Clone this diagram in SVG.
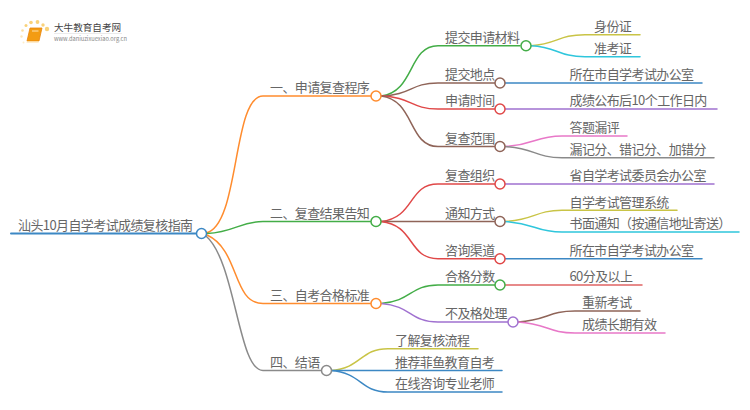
<svg xmlns="http://www.w3.org/2000/svg" width="750" height="410" viewBox="0 0 750 410">
<style>
text{font-family:"Noto Sans CJK SC","Noto Sans",sans-serif;font-size:13px;letter-spacing:-.6px;fill:#666;font-weight:400}
#links path{fill:none;stroke-width:1.5;stroke-linecap:round}
.n{fill:#fff;stroke-width:1.5}
.o{stroke:#ff8c2e}.g{stroke:#43ad47}.r{stroke:#e04848}.b{stroke:#8f6458}.p{stroke:#a071d0}.y{stroke:#c9c446}.c{stroke:#2fc6dc}.u{stroke:#3c88c4}.k{stroke:#e878c8}.a{stroke:#8a8a8a}.s{stroke:#e06464}
</style>
<rect width="750" height="410" fill="#fff"/>
<g id="logo">
<g fill="#f9d27a"><circle cx="47" cy="29" r="2.2"/><circle cx="43" cy="25" r="1.7"/><circle cx="37.500" cy="22" r="1.900"/><circle cx="31" cy="22.500" r="1.800"/><circle cx="26" cy="25.500" r="1.500"/><circle cx="22.500" cy="30.500" r="1.300" opacity=".7"/><circle cx="21.500" cy="36.500" r="1.200" opacity=".5"/><circle cx="23.500" cy="42.500" r="1" opacity=".4"/></g>
<path d="M30 28h12l-3 13h-12z" fill="#f39c12" stroke="#e8850c" stroke-width=".8"/><path d="M27 41h12l-.5 1.500h-12z" fill="#fbd9a0"/><path d="M32 31h6.500" stroke="#fde3b0" stroke-width="1"/>
<text x="54" y="31" style="font-size:9.600px;letter-spacing:0;fill:#444">大牛教育自考网</text>
<path d="M54 33.500h68" stroke="#ddd" stroke-width=".6"/>
<text x="54" y="41" style="font-size:5.700px;letter-spacing:0;fill:#888">www.daniuzixuexiao.org.cn</text>
</g>
<g id="links">
<path class="u" style="stroke-width:2" d="M11 233.500H196"/>
<path class="o" d="M206 233C240 226 232 96 263 96H371"/>
<path class="g" d="M207 233.500C235 232 240 221.500 263 221.500H371"/>
<path class="o" d="M207 235C240 250 232 303.500 263 303.500H371"/>
<path class="a" d="M206 236C236 262 238 370.500 263 370.500H321"/>
<path class="g" d="M381 96C415 92 408 45.700 438 45.700H520"/>
<path class="b" d="M381 96C412 95 410 83 438 83H495"/>
<path class="r" d="M381 96C412 97 410 109 438 109H495"/>
<path class="b" d="M381 96C415 100 408 146.500 438 146.500H495"/>
<path class="r" d="M381 221.500C415 218 408 184 438 184H495"/>
<path class="b" d="M381 221.500H495"/>
<path class="r" d="M381 221.500C415 225 408 258.700 438 258.700H495"/>
<path class="g" d="M381 303.500C412 301 410 285 438 285H495"/>
<path class="p" d="M381 303.500C412 306 410 322 438 322H508"/>
<path class="y" d="M531 45.700C558 44 558 34.700 585 34.700H640"/>
<path class="c" d="M531 45.700C558 47 558 56.700 585 56.700H640"/>
<path class="u" d="M505 83H702"/>
<path class="p" d="M505 109H717"/>
<path class="k" d="M505 146.500C535 145 535 136 562 136H627"/>
<path class="a" d="M505 146.500C535 148 535 157.700 562 157.700H714"/>
<path class="p" d="M505 184H714"/>
<path class="y" d="M505 221.500C535 220 535 210.300 562 210.300H677"/>
<path class="c" d="M505 221.500C535 223 535 232 562 232H739"/>
<path class="u" d="M505 258.700H702"/>
<path class="s" d="M505 285H642"/>
<path class="b" d="M518 322C548 320 548 311 575 311H640"/>
<path class="k" d="M518 322C548 324 548 333 575 333H665"/>
<path class="y" d="M331 370.500C362 368 360 348.700 388 348.700H478"/>
<path class="u" d="M331 370.500H502"/>
<path class="u" d="M331 370.500C362 373 360 392 388 392H502"/>
</g>
<g id="root"><circle class="n u" cx="201.500" cy="233.500" r="5"/><text x="18" y="229.500">汕头10月自学考试成绩复核指南</text></g>
<g id="b1"><circle class="n o" cx="376" cy="96" r="5"/><text x="270" y="92">一、申请复查程序</text></g>
<g id="b2"><circle class="n g" cx="376" cy="221.500" r="5"/><text x="270" y="217.500">二、复查结果告知</text></g>
<g id="b3"><circle class="n o" cx="376" cy="303.500" r="5"/><text x="270" y="299.500">三、自考合格标准</text></g>
<g id="b4"><circle class="n a" cx="326.500" cy="370.500" r="5"/><text x="270" y="366.500">四、结语</text></g>
<g id="m1"><circle class="n g" cx="526" cy="45.700" r="5"/><text x="445" y="42">提交申请材料</text></g>
<g id="m2"><circle class="n b" cx="500" cy="83" r="5"/><text x="445" y="79">提交地点</text></g>
<g id="m3"><circle class="n r" cx="500" cy="109" r="5"/><text x="445" y="105">申请时间</text></g>
<g id="m4"><circle class="n b" cx="500" cy="146.500" r="5"/><text x="445" y="142.500">复查范围</text></g>
<g id="m5"><circle class="n r" cx="500" cy="184" r="5"/><text x="445" y="180">复查组织</text></g>
<g id="m6"><circle class="n b" cx="500" cy="221.500" r="5"/><text x="445" y="217.500">通知方式</text></g>
<g id="m7"><circle class="n r" cx="500" cy="258.700" r="5"/><text x="445" y="254.500">咨询渠道</text></g>
<g id="m8"><circle class="n g" cx="500" cy="285" r="5"/><text x="445" y="281">合格分数</text></g>
<g id="m9"><circle class="n p" cx="513" cy="322" r="5"/><text x="445" y="318">不及格处理</text></g>
<g id="l1"><text x="594" y="31">身份证</text></g>
<g id="l2"><text x="594" y="53">准考证</text></g>
<g id="l3"><text x="569.500" y="79">所在市自学考试办公室</text></g>
<g id="l4"><text x="569.500" y="105">成绩公布后10个工作日内</text></g>
<g id="l5"><text x="569.500" y="132">答题漏评</text></g>
<g id="l6"><text x="569.500" y="153.500">漏记分、错记分、加错分</text></g>
<g id="l7"><text x="569.500" y="180">省自学考试委员会办公室</text></g>
<g id="l8"><text x="569.500" y="206.500">自学考试管理系统</text></g>
<g id="l9"><text x="569.500" y="228">书面通知（按通信地址寄送）</text></g>
<g id="l10"><text x="569.500" y="254.500">所在市自学考试办公室</text></g>
<g id="l11"><text x="569.500" y="281">60分及以上</text></g>
<g id="l12"><text x="582" y="307">重新考试</text></g>
<g id="l13"><text x="582" y="329">成绩长期有效</text></g>
<g id="l14"><text x="395" y="344.500">了解复核流程</text></g>
<g id="l15"><text x="395" y="366.500">推荐菲鱼教育自考</text></g>
<g id="l16"><text x="395" y="388">在线咨询专业老师</text></g>
</svg>
